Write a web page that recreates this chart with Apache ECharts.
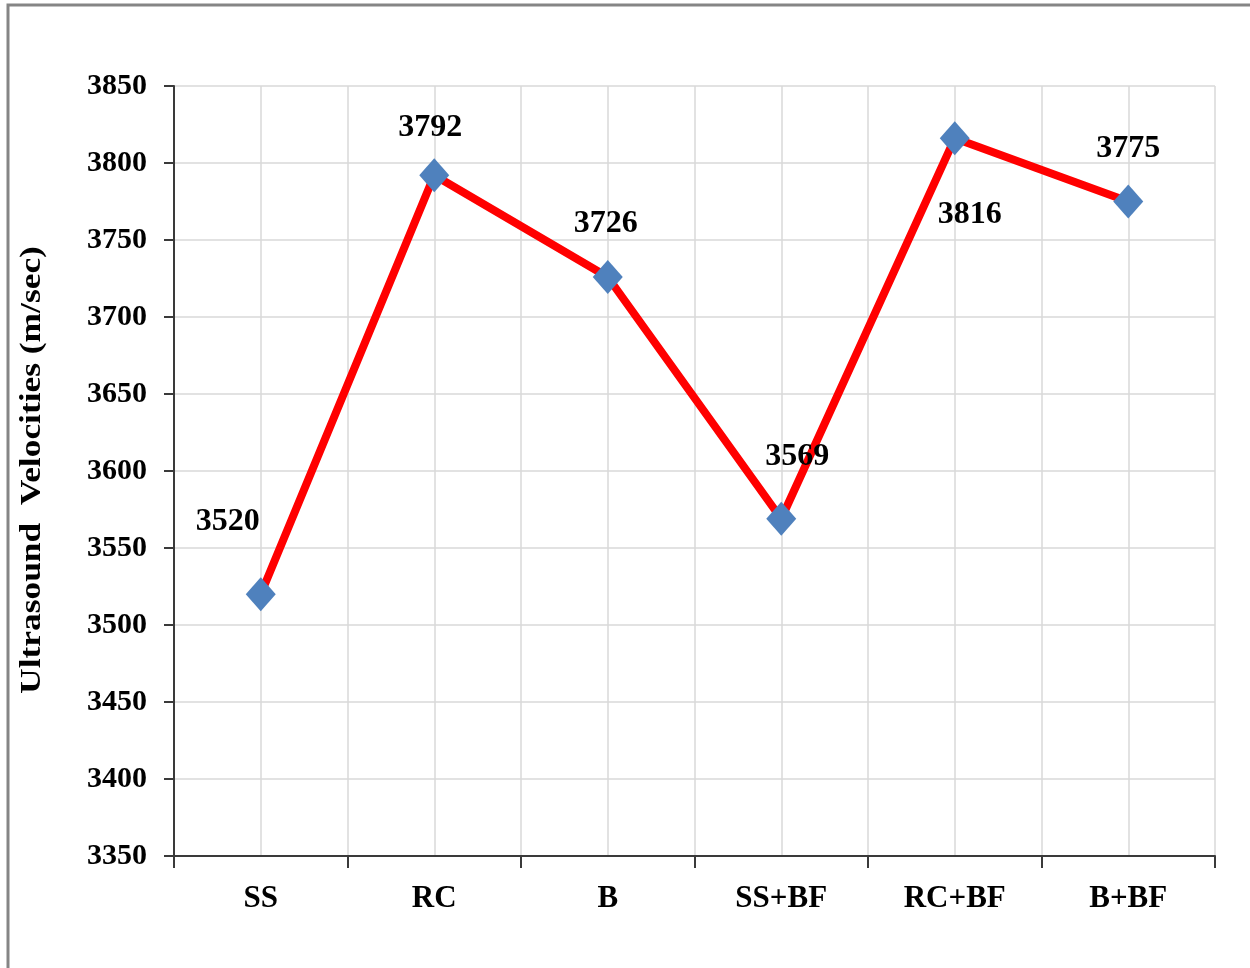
<!DOCTYPE html>
<html>
<head>
<meta charset="utf-8">
<title>Ultrasound Velocities</title>
<script src="https://cdn.jsdelivr.net/npm/echarts@6/dist/echarts.min.js"></script>
<style>
  html, body { margin: 0; padding: 0; background: #fff; }
  #chart { width: 1250px; height: 968px; }
</style>
</head>
<body>
<div id="chart"></div>
<script>
// Mix designations and their measured ultrasound pulse velocities (m/sec)
const categories = ['SS', 'RC', 'B', 'SS+BF', 'RC+BF', 'B+BF'];
const velocities = [3520, 3792, 3726, 3569, 3816, 3775];
const yTicks = { min: 3350, max: 3850, step: 50 };
const yTitle = 'Ultrasound  Velocities (m/sec)';

// Where each value label sits relative to its marker (pixels)
const labelOffsets = [[-33, -72], [-4, -48], [-2, -53], [16, -62], [15, 76], [0, -53]];

const FONT = '"Liberation Serif", "Times New Roman", serif';
const chart = echarts.init(document.getElementById('chart'), null, { renderer: 'canvas' });

chart.setOption({
  animation: false,
  backgroundColor: '#ffffff',
  graphic: [{
    type: 'rect',
    shape: { x: 8, y: 5, width: 1400, height: 1100 },
    style: { fill: 'none', stroke: '#858585', lineWidth: 3 },
    silent: true
  }, {
    // vertical axis title, drawn slightly elongated along its baseline
    type: 'text',
    x: 33,
    y: 470,
    rotation: Math.PI / 2,
    scaleX: 1.22,
    style: {
      text: yTitle,
      fill: '#000',
      font: 'bold 29px ' + FONT,
      textAlign: 'center',
      textVerticalAlign: 'middle'
    },
    silent: true
  }],
  grid: { left: 174, right: 35, top: 86, bottom: 112, containLabel: false },
  xAxis: [{
    type: 'category',
    data: categories,
    boundaryGap: true,
    axisLine: { show: true, lineStyle: { color: '#3a3a3a', width: 2 } },
    axisTick: { show: true, length: 12, lineStyle: { color: '#3a3a3a', width: 2 } },
    axisLabel: { color: '#000', fontFamily: FONT, fontWeight: 'bold', fontSize: 31, margin: 27 },
    splitLine: { show: false }
  }, {
    // half-category grid used only for the vertical gridlines
    type: 'value',
    min: 0, max: 12, interval: 1,
    position: 'bottom',
    axisLine: { show: false },
    axisTick: { show: false },
    axisLabel: { show: false },
    splitLine: { show: true, lineStyle: { color: '#d9d9d9', width: 1.5 } }
  }],
  yAxis: {
    type: 'value',
    min: yTicks.min, max: yTicks.max, interval: yTicks.step,
    axisLine: { show: true, lineStyle: { color: '#3a3a3a', width: 2 } },
    axisTick: { show: true, length: 10, lineStyle: { color: '#3a3a3a', width: 2 } },
    axisLabel: {
      color: '#000', fontFamily: FONT, fontWeight: 'bold', fontSize: 30, margin: 27,
      formatter: (v) => String(v)
    },
    splitLine: { show: true, lineStyle: { color: '#d9d9d9', width: 1.5 } }
  },
  series: [{
    type: 'line',
    xAxisIndex: 0,
    data: velocities.map((v, i) => ({
      value: v,
      label: { offset: labelOffsets[i] }
    })),
    lineStyle: { color: '#ff0000', width: 8 },
    itemStyle: { color: '#4f81bd' },
    symbol: 'diamond',
    symbolSize: [30, 34],
    showAllSymbol: true,
    z: 5,
    label: {
      show: true,
      position: 'inside',
      color: '#000',
      fontFamily: FONT,
      fontWeight: 'bold',
      fontSize: 32
    }
  }]
});
</script>
</body>
</html>
